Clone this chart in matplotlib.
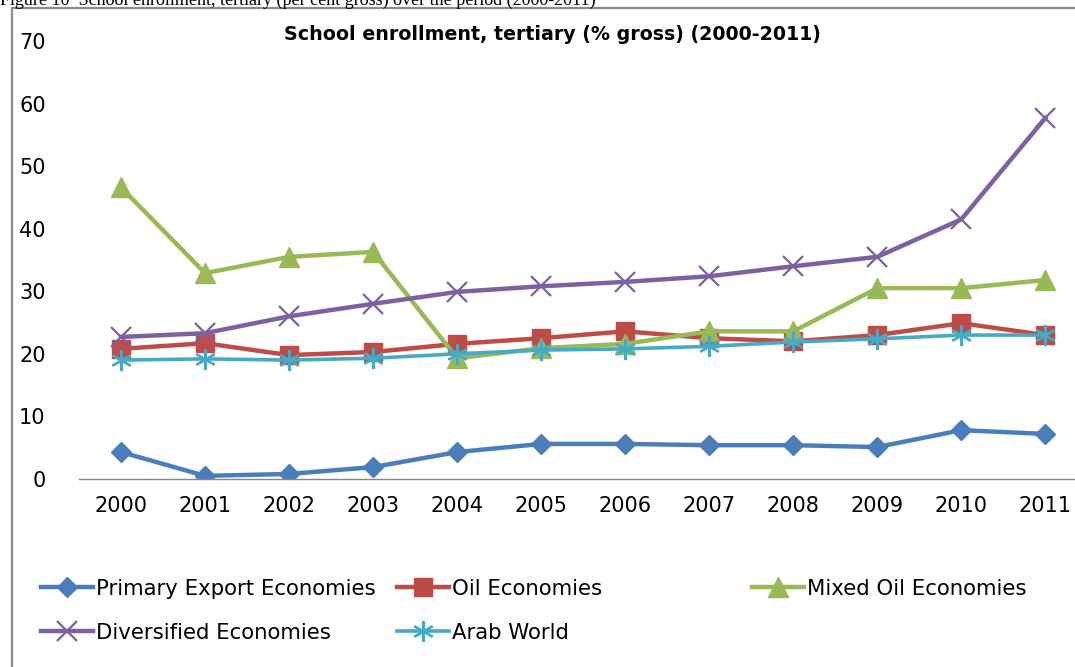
import matplotlib.pyplot as plt
from matplotlib.patches import Rectangle

# Data
years = ['2000', '2001', '2002', '2003', '2004', '2005',
         '2006', '2007', '2008', '2009', '2010', '2011']
primary_export = [4.3, 0.5, 0.8, 1.9, 4.3, 5.6, 5.6, 5.4, 5.4, 5.1, 7.8, 7.2]
oil = [20.8, 21.7, 19.8, 20.3, 21.6, 22.5, 23.6, 22.5, 22.0, 23.0, 24.9, 23.0]
mixed_oil = [46.6, 32.9, 35.5, 36.3, 19.3, 20.9, 21.6, 23.6, 23.6, 30.5, 30.5, 31.8]
diversified = [22.7, 23.3, 26.0, 28.0, 29.9, 30.8, 31.5, 32.4, 34.0, 35.5, 41.5, 57.7]
arab_world = [19.0, 19.2, 19.0, 19.3, 20.0, 20.6, 20.8, 21.2, 21.9, 22.4, 23.0, 23.0]
y_ticks = [0, 10, 20, 30, 40, 50, 60, 70]

title = 'School enrollment, tertiary (% gross) (2000-2011)'
caption = 'Figure 10  School enrollment, tertiary (per cent gross) over the period (2000-2011)'

fig = plt.figure(figsize=(10.75, 6.67), dpi=100)
ax = fig.add_axes([0.0735, 0.2819, 0.938, 0.6566])

x = list(range(len(years)))
star = (6, 2, 0)

l1, = ax.plot(x, primary_export, color='#4A7EBB', lw=3.2, marker='D', ms=10,
              label='Primary Export Economies')
l2, = ax.plot(x, oil, color='#BE4B48', lw=3.2, marker='s', ms=13,
              label='Oil Economies')
l3, = ax.plot(x, mixed_oil, color='#98B954', lw=3.2, marker='^', ms=14,
              label='Mixed Oil Economies')
l4, = ax.plot(x, diversified, color='#7D60A0', lw=3.2, marker='x', ms=15, mew=1.6,
              label='Diversified Economies')
l5, = ax.plot(x, arab_world, color='#46AAC5', lw=2.6, marker=star, ms=15, mew=1.6,
              label='Arab World')

ax.set_xlim(-0.5, len(years) - 0.5)
ax.set_ylim(0, 70)
ax.set_yticks(y_ticks)
ax.set_xticks(x)
ax.set_xticklabels(years)
ax.tick_params(axis='both', length=0, labelsize=15, colors='#000000')
ax.tick_params(axis='y', pad=24)
ax.tick_params(axis='x', pad=12)
for side in ['top', 'right', 'left']:
    ax.spines[side].set_visible(False)
ax.spines['bottom'].set_color('#868686')
ax.spines['bottom'].set_linewidth(1)

fig.text(0.514, 0.948, title, ha='center', va='center',
         fontsize=13.7, fontweight='bold')

# caption cut off at the top edge, as in the source scan
fig.text(0.0, 1.0, caption, ha='left', va='center', fontsize=13,
         family=['Liberation Serif', 'DejaVu Serif'])

# grey frame around the chart
fig.patches.append(Rectangle((0.011, -0.1), 1.2, 1.088, transform=fig.transFigure,
                             fill=False, edgecolor='#8c8c8c', lw=1.6))

leg_kw = dict(frameon=False, fontsize=15.3, handlelength=2.45, handletextpad=0.15,
              labelspacing=1.12, borderaxespad=0)
fig.legend(handles=[l1, l4], loc='upper left', bbox_to_anchor=(0.0302, 0.145), **leg_kw)
fig.legend(handles=[l2, l5], loc='upper left', bbox_to_anchor=(0.3614, 0.145), **leg_kw)
fig.legend(handles=[l3], loc='upper left', bbox_to_anchor=(0.6916, 0.145), **leg_kw)

fig.savefig('out.png', dpi=100)
